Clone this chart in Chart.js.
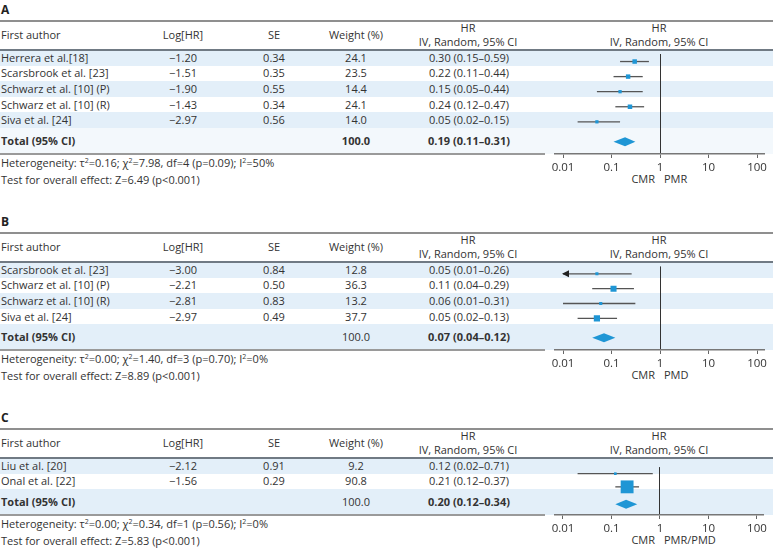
<!DOCTYPE html>
<html>
<head>
<meta charset="utf-8">
<script src="https://cdn.jsdelivr.net/npm/chart.js@4.4.1/dist/chart.umd.min.js"></script>
<style>
  html, body { margin: 0; padding: 0; background: #fff; }
  body {
    width: 773px; height: 548px; position: relative; overflow: hidden;
    font-family: "Open Sans", "Noto Sans", sans-serif; font-size: 11px; color: #333;
  }
  .t { position: absolute; white-space: nowrap; line-height: 14px; }
  .b { font-weight: bold; }
  .letter { line-height: 13px; font-size: 12px; color: #222; }
  .band, .rule { position: absolute; }
  sup { font-size: 7px; line-height: 0; vertical-align: 4px; }
  canvas { position: absolute; z-index: 2; }
</style>
</head>
<body>
<script>
// -------------------- DATA --------------------
const tickValues = [0.01, 0.1, 1, 10, 100];
const tickLabels = ["0.01", "0.1", "1", "10", "100"];

// A: CMR vs PMR
const authorsA = ["Herrera et al.[18]", "Scarsbrook et al. [23]", "Schwarz et al. [10] (P)", "Schwarz et al. [10] (R)", "Siva et al. [24]"];
const logHrA = [-1.20, -1.51, -1.90, -1.43, -2.97];
const seA = [0.34, 0.35, 0.55, 0.34, 0.56];
const weightA = [24.1, 23.5, 14.4, 24.1, 14.0];
const hrA = [0.30, 0.22, 0.15, 0.24, 0.05];
const loA = [0.15, 0.11, 0.05, 0.12, 0.02];
const hiA = [0.59, 0.44, 0.44, 0.47, 0.15];
const totalA = [0.19, 0.11, 0.31];

// B: CMR vs PMD
const authorsB = ["Scarsbrook et al. [23]", "Schwarz et al. [10] (P)", "Schwarz et al. [10] (R)", "Siva et al. [24]"];
const logHrB = [-3.00, -2.21, -2.81, -2.97];
const seB = [0.84, 0.50, 0.83, 0.49];
const weightB = [12.8, 36.3, 13.2, 37.7];
const hrB = [0.05, 0.11, 0.06, 0.05];
const loB = [0.01, 0.04, 0.01, 0.02];
const hiB = [0.26, 0.29, 0.31, 0.13];
const arrowB = [true, false, false, false];
const totalB = [0.07, 0.04, 0.12];

// C: CMR vs PMR/PMD
const authorsC = ["Liu et al. [20]", "Onal et al. [22]"];
const logHrC = [-2.12, -1.56];
const seC = [0.91, 0.29];
const weightC = [9.2, 90.8];
const hrC = [0.12, 0.21];
const loC = [0.02, 0.12];
const hiC = [0.71, 0.37];
const totalC = [0.20, 0.12, 0.34];

const panels = [
  { letter: "A", top: 21, authors: authorsA, logHr: logHrA, se: seA, weight: weightA, hr: hrA, lo: loA, hi: hiA,
    arrow: [], total: totalA, totalBold: true, totalBand: "#f3f8fc", right: "PMR",
    het: "τ<sup>2</sup>=0.16; χ<sup>2</sup>=7.98, df=4 (p=0.09); I<sup>2</sup>=50%", z: "6.49" },
  { letter: "B", top: 233, authors: authorsB, logHr: logHrB, se: seB, weight: weightB, hr: hrB, lo: loB, hi: hiB,
    arrow: arrowB, total: totalB, totalBold: false, totalBand: "#e3eff9", right: "PMD",
    het: "τ<sup>2</sup>=0.00; χ<sup>2</sup>=1.40, df=3 (p=0.70); I<sup>2</sup>=0%", z: "8.89" },
  { letter: "C", top: 429, authors: authorsC, logHr: logHrC, se: seC, weight: weightC, hr: hrC, lo: loC, hi: hiC,
    arrow: [], total: totalC, totalBold: false, totalBand: "#e3eff9", right: "PMR/PMD",
    het: "τ<sup>2</sup>=0.00; χ<sup>2</sup>=0.34, df=1 (p=0.56); I<sup>2</sup>=0%", z: "5.83" }
];

// -------------------- LAYOUT --------------------
const rowH = 15.6;
const totalH = 25.5;
const headerH = 29;
const blue = "#1f96d5";
const band = "#e3eff9";

function text(x, y, html, align, cls) {
  const el = document.createElement("div");
  el.className = "t" + (cls ? " " + cls : "");
  el.innerHTML = html;
  el.style.left = x + "px";
  el.style.top = y + "px";
  const dx = align === "c" ? "-50%" : align === "r" ? "-100%" : "0";
  el.style.transform = `translate(${dx}, -50%)`;
  document.body.appendChild(el);
}

function box(cls, x, y, w, h, color) {
  const el = document.createElement("div");
  el.className = cls;
  el.style.left = x + "px";
  el.style.top = y + "px";
  el.style.width = w + "px";
  el.style.height = h + "px";
  el.style.background = color;
  document.body.appendChild(el);
}

const fmt = (v, d) => v.toFixed(d).replace("-", "−");
const ci = (h, l, u) => `${h.toFixed(2)} (${l.toFixed(2)}–${u.toFixed(2)})`;

function forestPlugin(p, totalY) {
  return {
    id: "forest" + p.letter,
    afterDatasetsDraw(chart) {
      const { ctx, scales: { x, y } } = chart;
      ctx.save();
      // pooled estimate diamond
      const yc = y.getPixelForValue(totalY);
      ctx.fillStyle = blue;
      ctx.beginPath();
      ctx.moveTo(x.getPixelForValue(p.total[1]), yc);
      ctx.lineTo(x.getPixelForValue(p.total[0]), yc - 4.5);
      ctx.lineTo(x.getPixelForValue(p.total[2]), yc);
      ctx.lineTo(x.getPixelForValue(p.total[0]), yc + 4.5);
      ctx.closePath();
      ctx.fill();
      // arrows for CIs running off the axis
      ctx.fillStyle = "#222";
      p.arrow.forEach((on, i) => {
        if (!on) return;
        const tx = x.getPixelForValue(p.lo[i]);
        const ty = y.getPixelForValue(i);
        ctx.beginPath();
        ctx.moveTo(tx - 1, ty);
        ctx.lineTo(tx + 6, ty - 3.5);
        ctx.lineTo(tx + 6, ty + 3.5);
        ctx.closePath();
        ctx.fill();
      });
      ctx.restore();
    }
  };
}

panels.forEach((p) => {
  const n = p.authors.length;
  const headLine = p.top + headerH;
  const plotH = n * rowH + totalH;
  const bottom = headLine + plotH;

  // row bands
  for (let i = 0; i < n; i += 2) box("band", 0, headLine + i * rowH, 773, rowH, band);
  box("band", 0, headLine + n * rowH, 773, totalH, p.totalBand);

  // rules
  box("rule", 0, p.top - 0.75, 773, 1.5, "#8f8f8f");
  box("rule", 0, headLine - 0.75, 773, 1.5, "#707a84");
  box("rule", 0, bottom - 1, 545, 2, "#9a9a9a");

  // header
  text(1, p.top - 12.5, p.letter, "l", "b letter");
  text(1, p.top + 14, "First author", "l");
  text(183, p.top + 14, "Log[HR]", "c");
  text(274, p.top + 14, "SE", "c");
  text(356, p.top + 14, "Weight (%)", "c");
  text(468, p.top + 7, "HR", "c");
  text(468, p.top + 21, "IV, Random, 95% CI", "c");
  text(659, p.top + 7, "HR", "c");
  text(659, p.top + 21, "IV, Random, 95% CI", "c");

  // study rows
  p.authors.forEach((a, i) => {
    const yc = headLine + (i + 0.5) * rowH;
    text(1, yc, a, "l");
    text(183, yc, fmt(p.logHr[i], 2), "c");
    text(274, yc, p.se[i].toFixed(2), "c");
    text(356, yc, p.weight[i].toFixed(1), "c");
    text(469, yc, ci(p.hr[i], p.lo[i], p.hi[i]), "c");
  });

  // total row
  const ty = headLine + n * rowH + totalH / 2;
  text(1, ty, "Total (95% CI)", "l", "b");
  text(356, ty, "100.0", "c", p.totalBold ? "b" : "");
  text(469, ty, ci(p.total[0], p.total[1], p.total[2]), "c", "b");

  // footnotes
  text(1, bottom + 9, "Heterogeneity: " + p.het, "l");
  text(1, bottom + 26, "Test for overall effect: Z=" + p.z + " (p&lt;0.001)", "l");
  text(655, bottom + 25, "CMR", "r");
  text(664, bottom + 25, p.right, "l");

  // forest plot
  const canvas = document.createElement("canvas");
  canvas.width = 243;
  canvas.height = Math.round(plotH) + 22;
  canvas.style.left = "530px";
  canvas.style.top = headLine + "px";
  document.body.appendChild(canvas);

  const yMax = n - 0.5 + totalH / rowH;
  const totalY = n - 0.5 + totalH / rowH / 2;

  const datasets = [
    {
      data: p.hr.map((h, i) => ({ x: h, y: i })),
      pointStyle: "rect",
      pointRadius: p.weight.map((w) => (1.5 + w * 0.125) * Math.SQRT1_2),
      backgroundColor: blue,
      borderWidth: 0,
      order: 0
    }
  ];
  p.hr.forEach((h, i) => {
    datasets.push({
      data: [{ x: p.lo[i], y: i }, { x: p.hi[i], y: i }],
      showLine: true,
      pointRadius: 0,
      borderColor: "#555",
      borderWidth: 1.3,
      order: 1
    });
  });

  new Chart(canvas, {
    type: "scatter",
    data: { datasets },
    options: {
      responsive: false,
      animation: false,
      devicePixelRatio: 1,
      layout: { padding: { left: 25, right: 9, top: 0, bottom: 0 } },
      plugins: { legend: { display: false }, tooltip: { enabled: false } },
      scales: {
        x: {
          type: "logarithmic",
          min: 0.00684,
          max: 139,
          afterBuildTicks: (s) => { s.ticks = tickValues.map((v) => ({ value: v })); },
          afterFit: (s) => { s.height = 22; },
          ticks: {
            callback: (v) => tickLabels[tickValues.indexOf(v)] ?? "",
            color: "#333",
            font: { family: "Open Sans", size: 11.5 },
            padding: 3,
            maxRotation: 0,
            autoSkip: false
          },
          grid: {
            color: (c) => (c.tick && c.tick.value === 1 ? "#333" : "rgba(0,0,0,0)"),
            lineWidth: 1,
            tickColor: "#666",
            tickLength: 4
          },
          border: { color: "#777", width: 1.5 }
        },
        y: { type: "linear", display: false, reverse: true, min: -0.5, max: yMax }
      }
    },
    plugins: [forestPlugin(p, totalY)]
  });
});
</script>
</body>
</html>
